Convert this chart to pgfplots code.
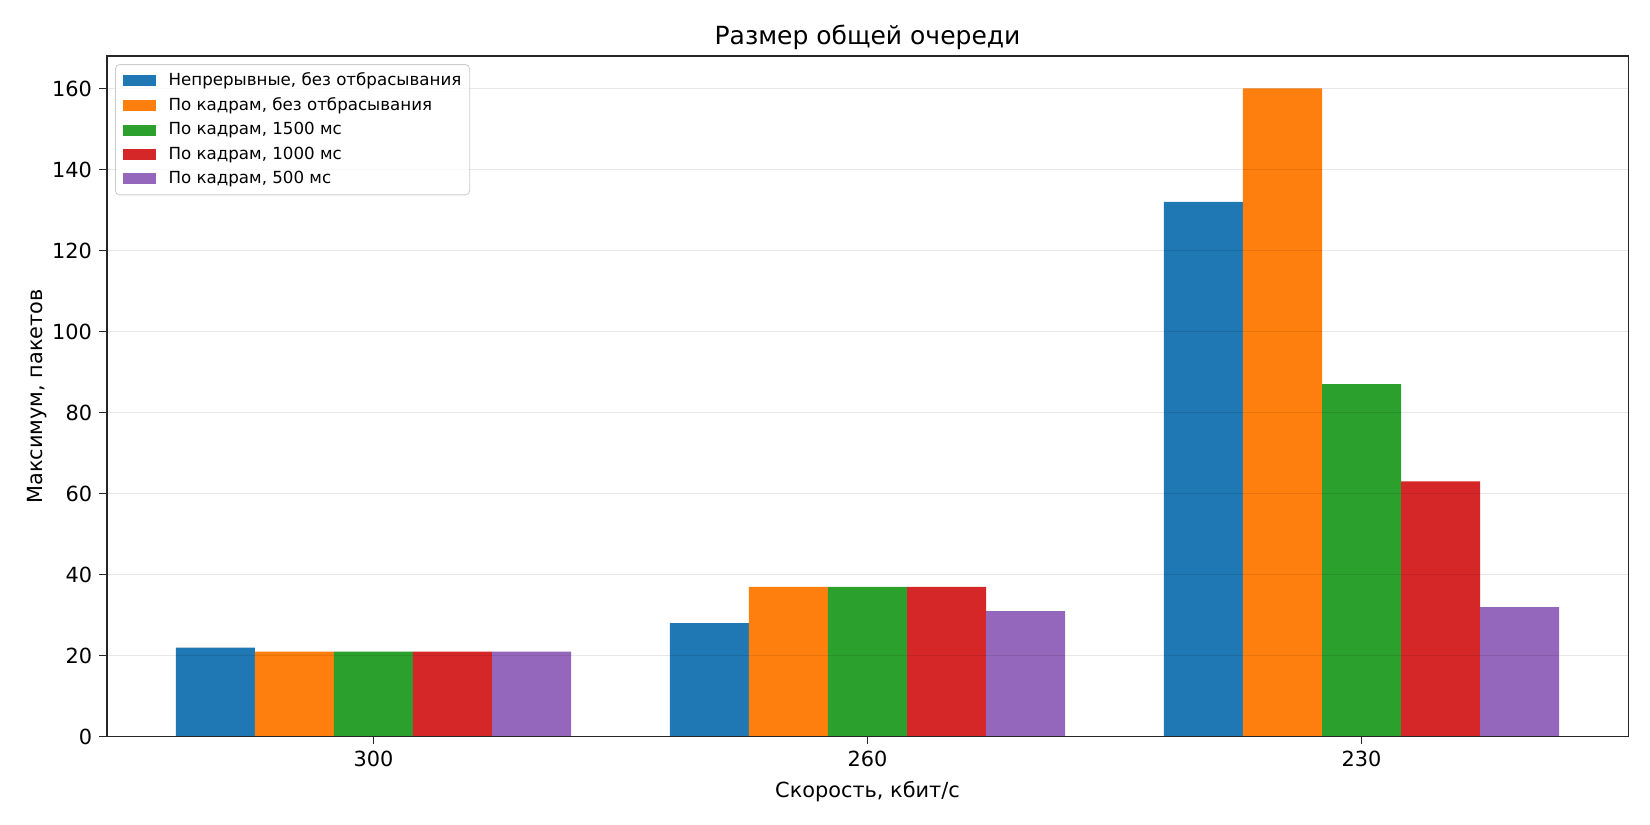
\documentclass[border=0pt]{standalone}
\usepackage{fontspec}
\setmainfont{DejaVu Sans}
\usepackage{pgfplots}
\pgfplotsset{compat=1.18}
\definecolor{c1}{HTML}{1F77B4}
\definecolor{c2}{HTML}{FF7F0E}
\definecolor{c3}{HTML}{2CA02C}
\definecolor{c4}{HTML}{D62728}
\definecolor{c5}{HTML}{9467BD}
\begin{document}
\begin{tikzpicture}
\useasboundingbox (0pt,0pt) rectangle (792pt,396pt);
\begin{axis}[
  at={(51.2pt,42.4pt)}, anchor=south west,
  scale only axis,
  width=730.4pt, height=326.7pt,
  ybar=0pt, bar width=0.16,
  xmin=-0.54, xmax=2.54, ymin=0, ymax=168,
  xtick={0,1,2}, xticklabels={300,260,230},
  ytick={0,20,40,60,80,100,120,140,160},
  /pgf/number format/assume math mode=true,
  tick label style={font=\fontsize{10}{12}\selectfont},
  tick align=outside, tick pos=left,
  major tick length=3.5pt,
  ymajorgrids, axis on top,
  major grid style={black, opacity=0.09, line width=0.8pt},
  axis line style={line width=0.8pt, black!85},
  tick style={line width=0.8pt, black!85},
  title={Размер общей очереди},
  title style={font=\fontsize{12}{14}\selectfont, yshift=-6.3pt},
  xlabel={Скорость, кбит/с},
  ylabel={Максимум, пакетов},
  label style={font=\fontsize{10}{12}\selectfont},
  ylabel style={yshift=-4.3pt},
  legend cell align=left,
  legend style={font=\fontsize{8}{10}\selectfont, draw=black!20, rounded corners=2pt, fill=white, fill opacity=0.8, text opacity=1, inner sep=2pt, at={(0.0055,0.988)}, anchor=north west, row sep=0.2pt},
  legend image code/.code={\path (-1.5pt,0pt) (20pt,0pt); \fill[#1, fill opacity=1, sharp corners] (0pt,-2.6pt) rectangle (15.8pt,2.7pt);},
]
\addplot[fill=c1, draw=none] coordinates {(0,22) (1,28) (2,132)};
\addplot[fill=c2, draw=none] coordinates {(0,21) (1,37) (2,160)};
\addplot[fill=c3, draw=none] coordinates {(0,21) (1,37) (2,87)};
\addplot[fill=c4, draw=none] coordinates {(0,21) (1,37) (2,63)};
\addplot[fill=c5, draw=none] coordinates {(0,21) (1,31) (2,32)};
\legend{{Непрерывные, без отбрасывания}, {По кадрам, без отбрасывания}, {По кадрам, 1500 мс}, {По кадрам, 1000 мс}, {По кадрам, 500 мс}}
\end{axis}
\end{tikzpicture}
\end{document}
